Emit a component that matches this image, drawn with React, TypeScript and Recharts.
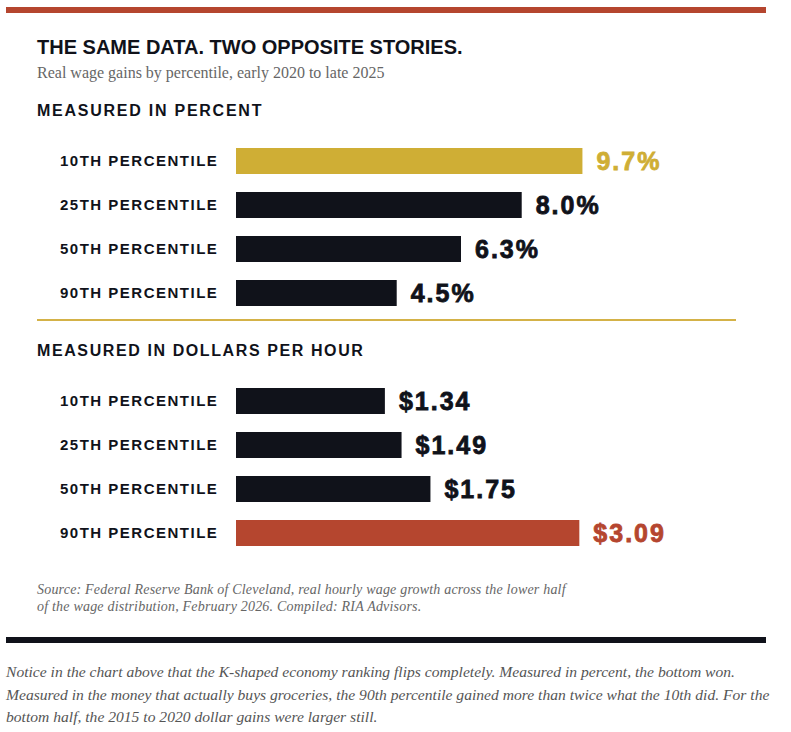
import React from 'react';
import { BarChart, Bar, XAxis, YAxis, Cell, LabelList } from 'recharts';

// percentile rows, same order in both panels
const percentiles = ['10TH PERCENTILE', '25TH PERCENTILE', '50TH PERCENTILE', '90TH PERCENTILE'];
const percentGains = [9.7, 8.0, 6.3, 4.5];
const dollarGains = [1.34, 1.49, 1.75, 3.09];
const percentHighlight = [true, false, false, false];
const dollarHighlight = [false, false, false, true];

const GOLD = '#cfae35';
const INK = '#10121a';
const RUST = '#b5462f';

const SANS = "'Liberation Sans', Arial, sans-serif";
const SERIF = "'Liberation Serif', Georgia, serif";

const percentData = percentiles.map((label, i) => ({ label, value: percentGains[i], hi: percentHighlight[i] }));
const dollarData = percentiles.map((label, i) => ({ label, value: dollarGains[i], hi: dollarHighlight[i] }));

const LeftTick = (props: any) => {
  const { y, payload } = props;
  return (
    <text x={60} y={y} dy="0.36em" textAnchor="start" fontFamily={SANS} fontWeight={700} fontSize={15} letterSpacing={1.5} fill={INK}>
      {payload.value}
    </text>
  );
};

function makeValueLabel(data: any[], hiColor: string, fmt: (v: number) => string) {
  return (props: any) => {
    const { x, y, width, height, index, value } = props;
    const color = data[index]?.hi ? hiColor : INK;
    return (
      <text
        x={x + width + 14}
        y={y + height / 2}
        dy="0.36em"
        fontFamily={SANS}
        fontWeight={700}
        fontSize={25}
        letterSpacing={2}
        fill={color}
        stroke={color}
        strokeWidth={0.8}
      >
        {fmt(value)}
      </text>
    );
  };
}

function Panel({ data, max, hiColor, fmt }: { data: any[]; max: number; hiColor: string; fmt: (v: number) => string }) {
  return (
    <BarChart layout="vertical" data={data} width={791} height={176} margin={{ top: 0, right: 55, bottom: 0, left: 36 }}>
      <XAxis type="number" domain={[0, max]} hide />
      <YAxis type="category" dataKey="label" width={200} axisLine={false} tickLine={false} tick={<LeftTick />} />
      <Bar dataKey="value" barSize={26} isAnimationActive={false}>
        {data.map((d, i) => (
          <Cell key={i} fill={d.hi ? hiColor : INK} />
        ))}
        <LabelList dataKey="value" content={makeValueLabel(data, hiColor, fmt)} />
      </Bar>
    </BarChart>
  );
}

const abs = (top: number, left: number, extra: React.CSSProperties = {}): React.CSSProperties => ({
  position: 'absolute',
  top,
  left,
  margin: 0,
  whiteSpace: 'nowrap',
  ...extra,
});

export default function App() {
  return (
    <div style={{ position: 'absolute', left: 0, top: 0, width: 791, height: 732, background: '#fff', overflow: 'hidden' }}>
      <div style={abs(7, 6, { width: 760, height: 6, background: RUST })} />

      <div style={abs(37, 37, { fontFamily: SANS, fontWeight: 700, fontSize: 20, lineHeight: '20px', color: INK })}>
        THE SAME DATA. TWO OPPOSITE STORIES.
      </div>
      <div style={abs(65, 37, { fontFamily: SERIF, fontSize: 16, lineHeight: '16px', color: '#666' })}>
        Real wage gains by percentile, early 2020 to late 2025
      </div>

      <div style={abs(103, 37, { fontFamily: SANS, fontWeight: 700, fontSize: 16, lineHeight: '16px', letterSpacing: 1.75, color: INK })}>
        MEASURED IN PERCENT
      </div>
      <div style={abs(139, 0)}>
        <Panel data={percentData} max={14} hiColor={GOLD} fmt={(v) => `${v.toFixed(1)}%`} />
      </div>

      <div style={abs(319, 37, { width: 699, height: 2, background: '#d4b247' })} />

      <div style={abs(343, 37, { fontFamily: SANS, fontWeight: 700, fontSize: 16, lineHeight: '16px', letterSpacing: 1.6, color: INK })}>
        MEASURED IN DOLLARS PER HOUR
      </div>
      <div style={abs(379, 0)}>
        <Panel data={dollarData} max={4.5} hiColor={RUST} fmt={(v) => `$${v.toFixed(2)}`} />
      </div>

      <div style={abs(581, 37, { fontFamily: SERIF, fontStyle: 'italic', fontSize: 14, lineHeight: '17px', letterSpacing: 0.2, color: '#666' })}>
        Source: Federal Reserve Bank of Cleveland, real hourly wage growth across the lower half
        <br />
        of the wage distribution, February 2026. Compiled: RIA Advisors.
      </div>

      <div style={abs(637, 6, { width: 760, height: 6, background: INK })} />

      <div style={abs(661, 6, { fontFamily: SERIF, fontStyle: 'italic', fontSize: 15.6, lineHeight: '22.5px', color: '#555' })}>
        Notice in the chart above that the K-shaped economy ranking flips completely. Measured in percent, the bottom won.
        <br />
        Measured in the money that actually buys groceries, the 90th percentile gained more than twice what the 10th did. For the
        <br />
        bottom half, the 2015 to 2020 dollar gains were larger still.
      </div>
    </div>
  );
}
